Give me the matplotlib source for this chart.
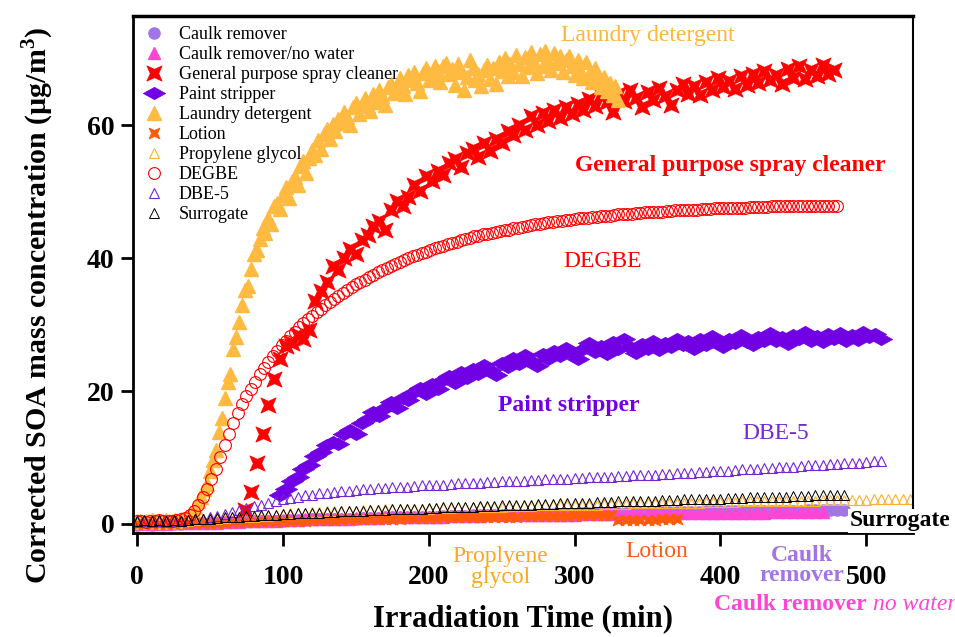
import numpy as np
import matplotlib
matplotlib.use("Agg")
import matplotlib.pyplot as plt

plt.rcParams['font.family'] = 'Liberation Serif'
plt.rcParams['mathtext.fontset'] = 'custom'
plt.rcParams['mathtext.rm'] = 'Liberation Serif'
plt.rcParams['mathtext.bf'] = 'Liberation Serif:bold'

# SOA mass concentration (ug/m3) vs irradiation time (min)
# each series: first sample time, sampling interval, values

caulk_t0, caulk_dt = 0, 5
caulk = [-0.1, 0.0, -0.1, 0.0, 0.0, 0.0, 0.0, 0.1, 0.1, 0.2, 0.2, 0.2, 0.3, 0.3, 0.3, 0.4, 0.4, 0.4, 0.5, 0.5,
         0.5, 0.6, 0.6, 0.6, 0.7, 0.7, 0.7, 0.8, 0.8, 0.8, 0.8, 0.9, 0.9, 0.9, 1.0, 1.0, 1.0, 1.0, 1.1, 1.1,
         1.1, 1.1, 1.2, 1.2, 1.2, 1.2, 1.3, 1.3, 1.3, 1.3, 1.3, 1.4, 1.4, 1.4, 1.4, 1.4, 1.5, 1.5, 1.5, 1.5,
         1.5, 1.6, 1.6, 1.6, 1.6, 1.6, 1.7, 1.7, 1.7, 1.7, 1.7, 1.7, 1.8, 1.8, 1.8, 1.8, 1.8, 1.8, 1.9, 1.9,
         1.9, 1.9, 1.9, 1.9, 1.9, 2.0, 2.0, 2.0, 2.0, 2.0, 2.0, 2.0, 2.1, 2.1, 2.1, 2.1, 2.1, 2.1]

nowater_t0, nowater_dt = 0, 5
nowater = [0.0, 0.0, 0.0, 0.0, 0.0, 0.1, 0.1, 0.1, 0.1, 0.2, 0.2, 0.2, 0.3, 0.3, 0.3, 0.4, 0.4, 0.4, 0.5, 0.5,
           0.6, 0.6, 0.6, 0.7, 0.7, 0.7, 0.8, 0.8, 0.8, 0.8, 0.9, 0.9, 0.9, 0.9, 1.0, 1.0, 1.0, 1.0, 1.1, 1.1,
           1.1, 1.1, 1.1, 1.2, 1.2, 1.2, 1.2, 1.2, 1.3, 1.3, 1.3, 1.3, 1.3, 1.3, 1.4, 1.4, 1.4, 1.4, 1.4, 1.4,
           1.4, 1.5, 1.5, 1.5, 1.5, 1.5, 1.5, 1.5, 1.6, 1.6, 1.6, 1.6, 1.6, 1.6, 1.6, 1.6, 1.6, 1.7, 1.7, 1.7,
           1.7, 1.7, 1.7, 1.7, 1.7, 1.7, 1.7, 1.8, 1.8, 1.8, 1.8, 1.8, 1.8, 1.8, 1.8]

spray_t0, spray_dt = 74, 4
spray = [2.1, 4.8, 9.2, 13.6, 17.9, 21.8, 24.9, 26.8, 27.3, 28.4, 27.9, 29.2, 33.6, 35.1, 36.4, 38.9, 38.2,
         40.1, 41.4, 40.6, 42.8, 43.5, 44.9, 45.6, 44.3, 47.2, 48.6, 47.9, 49.3, 51.0, 50.2, 52.4, 51.6,
         53.1, 52.5, 54.3, 55.0, 53.8, 55.9, 56.4, 55.2, 57.3, 56.1, 58.0, 57.4, 59.2, 58.5, 60.1, 59.3,
         61.4, 60.0, 61.9, 60.6, 62.3, 61.1, 62.8, 61.7, 63.2, 62.4, 64.0, 62.9, 64.6, 63.5, 62.0, 64.8,
         63.7, 65.3, 64.1, 62.8, 65.0, 63.9, 65.6, 64.4, 63.1, 65.4, 66.2, 64.8, 65.9, 64.6, 66.5, 65.3,
         67.1, 65.8, 66.7, 65.5, 67.4, 66.1, 67.8, 66.4, 68.2, 66.9, 67.6, 66.3, 68.5, 67.2, 68.9, 67.0,
         68.3, 67.5, 69.1, 67.8, 68.4]

paint_t0, paint_dt = 98, 4
paint = [4.3, 5.2, 6.4, 7.1, 8.3, 8.9, 10.2, 10.8, 11.9, 12.4, 12.0, 13.5, 14.1, 13.6, 15.2, 15.8, 16.9,
         16.2, 17.5, 18.3, 17.4, 19.0, 18.6, 19.8, 20.4, 19.6, 21.0, 20.3, 21.6, 22.2, 21.2, 22.8, 21.9,
         23.3, 22.5, 24.0, 23.1, 22.4, 24.2, 23.6, 25.0, 24.1, 25.4, 24.6, 23.8, 25.6, 24.9, 26.1, 25.3,
         26.5, 25.7, 24.9, 26.4, 27.2, 25.9, 26.8, 25.6, 27.4, 26.3, 27.9, 26.7, 25.8, 27.1, 26.4, 27.6,
         26.2, 27.3, 26.6, 27.8, 26.9, 27.5, 26.4, 27.9, 27.0, 28.3, 27.2, 26.7, 27.9, 27.3, 28.5, 27.4,
         26.9, 28.1, 27.6, 28.7, 27.5, 28.2, 27.1, 28.4, 27.8, 28.9, 27.6, 28.3, 27.4, 28.6, 27.9, 28.8,
         27.5, 28.4, 27.7, 28.9, 28.1, 28.6, 27.9]

laundry_t0, laundry_dt = 0, 2
laundry = [0.4, 0.5, 0.3, 0.5, 0.4, 0.6, 0.4, 0.5, 0.3, 0.5, 0.6, 0.4, 0.5, 0.6, 0.5, 0.7, 0.8, 1.0, 1.3,
           1.9, 2.6, 3.4, 4.1, 5.2, 6.0, 7.9, 9.6, 11.2, 13.8, 16.0, 18.9, 21.4, 22.6, 26.3, 28.1, 30.4,
           33.0, 35.2, 35.9, 38.4, 40.6, 41.3, 42.9, 44.6, 43.8, 46.1, 45.2, 47.8, 48.3, 47.4, 49.6, 50.8,
           49.1, 51.7, 52.3, 51.0, 53.9, 54.6, 52.8, 55.1, 56.3, 55.5, 57.8, 56.4, 58.7, 59.4, 57.9, 60.2,
           59.1, 61.0, 60.4, 62.1, 61.3, 60.0, 62.8, 63.4, 61.7, 62.9, 64.1, 63.0, 62.2, 64.8, 63.6, 65.3,
           64.4, 63.1, 65.8, 66.3, 64.9, 65.7, 67.2, 66.0, 64.8, 67.6, 66.9, 68.1, 66.4, 65.2, 67.9, 68.6,
           66.8, 67.5, 69.0, 68.2, 66.6, 68.9, 69.4, 67.7, 68.5, 66.1, 69.2, 68.0, 65.4, 67.3, 69.8, 68.6,
           66.9, 67.8, 65.9, 68.4, 69.1, 67.0, 68.7, 66.3, 69.6, 68.2, 70.1, 67.5, 69.3, 68.0, 70.6, 69.2,
           67.4, 70.3, 68.8, 71.0, 69.5, 67.9, 70.8, 69.0, 71.2, 69.7, 68.3, 70.9, 69.4, 70.5, 68.1, 69.8,
           70.4, 68.9, 67.6, 69.9, 68.4, 67.2, 69.5, 67.8, 66.5, 68.6, 67.1, 65.8, 67.3, 65.2, 66.4, 64.6,
           65.9, 63.8]

lotion_t0, lotion_dt = 0, 5
lotion = [0.0, 0.0, 0.0, 0.0, 0.0, 0.0, 0.1, 0.1, 0.1, 0.1, 0.2, 0.2, 0.2, 0.3, 0.3, 0.3, 0.3, 0.4, 0.4, 0.4,
          0.5, 0.5, 0.5, 0.5, 0.6, 0.6, 0.6, 0.6, 0.7, 0.7, 0.7, 0.7, 0.8, 0.8, 0.8, 0.8, 0.8, 0.9, 0.9, 0.9,
          0.9, 0.9, 1.0, 1.0, 1.0, 1.0, 1.0, 1.1, 1.1, 1.1, 1.1, 1.1, 1.1, 1.2, 1.2, 1.2, 1.2, 1.2, 1.2, 1.2,
          1.3, 1.3, 1.3, 1.3, 1.3, 1.3, 0.6, 0.6, 0.6, 0.6, 0.6, 0.6, 0.7, 0.7, 0.7]

pg_t0, pg_dt = 0, 5
pg = [0.5, 0.4, 0.5, 0.5, 0.4, 0.5, 0.5, 0.5, 0.6, 0.7, 0.8, 0.8, 0.9, 1.0, 1.0, 1.1, 1.1, 1.2, 1.2, 1.3,
      1.5, 1.6, 1.7, 1.7, 1.8, 1.8, 1.9, 1.9, 1.9, 2.0, 2.0, 2.1, 2.1, 2.1, 2.2, 2.2, 2.2, 2.3, 2.3, 2.3,
      2.3, 2.4, 2.4, 2.4, 2.5, 2.5, 2.5, 2.6, 2.6, 2.6, 2.6, 2.7, 2.7, 2.7, 2.7, 2.8, 2.8, 2.8, 2.8, 2.8,
      2.9, 2.9, 2.9, 2.9, 3.0, 3.0, 3.0, 3.0, 3.1, 3.1, 3.1, 3.1, 3.1, 3.2, 3.2, 3.2, 3.2, 3.2, 3.3, 3.3,
      3.3, 3.3, 3.3, 3.4, 3.4, 3.4, 3.4, 3.4, 3.5, 3.5, 3.5, 3.5, 3.5, 3.5, 3.6, 3.6, 3.6, 3.6, 3.6, 3.6,
      3.6, 3.7, 3.7, 3.7, 3.7, 3.7, 3.7]

degbe_t0, degbe_dt = 0, 3
degbe = [0.4, 0.5, 0.3, 0.5, 0.4, 0.6, 0.4, 0.5, 0.5, 0.6,
         0.7, 0.9, 1.3, 2.0, 2.9, 4.0, 5.2, 6.7, 8.3, 10.1,
         11.9, 13.6, 15.2, 16.7, 18.0, 19.2, 20.3, 21.4, 22.5, 23.5,
         24.4, 25.3, 26.1, 26.9, 27.6, 28.3, 28.9, 29.6, 30.2, 30.8,
         31.3, 31.9, 32.4, 32.9, 33.4, 33.9, 34.3, 34.8, 35.2, 35.6,
         36.1, 36.4, 36.8, 37.2, 37.5, 37.9, 38.2, 38.6, 38.8, 39.2,
         39.5, 39.7, 40.0, 40.3, 40.5, 40.8, 41.0, 41.3, 41.5, 41.7,
         41.9, 42.2, 42.3, 42.5, 42.7, 42.9, 43.1, 43.3, 43.4, 43.6,
         43.7, 43.8, 44.0, 44.1, 44.2, 44.3, 44.5, 44.6, 44.7, 44.8,
         45.0, 45.1, 45.2, 45.3, 45.4, 45.5, 45.6, 45.6, 45.7, 45.8,
         45.9, 46.0, 46.0, 46.1, 46.2, 46.2, 46.3, 46.4, 46.4, 46.5,
         46.6, 46.6, 46.7, 46.7, 46.8, 46.8, 46.9, 46.9, 47.0, 47.0,
         47.0, 47.1, 47.1, 47.2, 47.2, 47.2, 47.3, 47.3, 47.3, 47.4,
         47.4, 47.4, 47.5, 47.5, 47.5, 47.5, 47.6, 47.6, 47.6, 47.6,
         47.7, 47.7, 47.7, 47.7, 47.7, 47.8, 47.8, 47.8, 47.8, 47.8,
         47.8, 47.8, 47.9, 47.9, 47.9, 47.9, 47.9, 47.9, 47.9, 47.9,
         47.9]

dbe5_t0, dbe5_dt = 0, 5
dbe5 = [0.5, 0.4, 0.5, 0.5, 0.4, 0.5, 0.5, 0.6, 0.7, 0.8, 1.0, 1.2, 1.5, 1.8, 2.1, 2.4, 2.7, 2.9, 3.2, 3.4,
        3.7, 3.9, 4.1, 4.3, 4.4, 4.6, 4.7, 4.8, 4.9, 5.0, 5.1, 5.2, 5.3, 5.4, 5.4, 5.5, 5.6, 5.6, 5.7, 5.8,
        5.8, 5.9, 5.9, 6.0, 6.1, 6.1, 6.2, 6.2, 6.3, 6.3, 6.4, 6.4, 6.5, 6.5, 6.6, 6.6, 6.7, 6.7, 6.8, 6.8,
        6.9, 6.9, 7.0, 7.0, 7.1, 7.1, 7.2, 7.2, 7.3, 7.3, 7.4, 7.4, 7.5, 7.5, 7.6, 7.7, 7.7, 7.8, 7.8, 7.9,
        8.0, 8.0, 8.1, 8.2, 8.2, 8.3, 8.4, 8.4, 8.5, 8.6, 8.6, 8.7, 8.8, 8.8, 8.9, 9.0, 9.0, 9.1, 9.2, 9.2,
        9.3, 9.4, 9.5]

surr_t0, surr_dt = 0, 5
surr = [0.5, 0.6, 0.5, 0.6, 0.5, 0.6, 0.5, 0.6, 0.7, 0.7, 0.8, 0.9, 1.0, 1.0, 1.1, 1.2, 1.2, 1.3, 1.3, 1.4,
        1.5, 1.5, 1.6, 1.6, 1.7, 1.7, 1.8, 1.8, 1.9, 1.9, 2.0, 2.0, 2.1, 2.1, 2.1, 2.2, 2.2, 2.3, 2.3, 2.3,
        2.4, 2.4, 2.5, 2.5, 2.5, 2.6, 2.6, 2.7, 2.7, 2.7, 2.8, 2.8, 2.9, 2.9, 2.9, 3.0, 3.0, 3.0, 3.1, 3.1,
        3.2, 3.2, 3.2, 3.3, 3.3, 3.3, 3.4, 3.4, 3.4, 3.5, 3.5, 3.5, 3.6, 3.6, 3.6, 3.7, 3.7, 3.7, 3.8, 3.8,
        3.8, 3.9, 3.9, 3.9, 4.0, 4.0, 4.0, 4.1, 4.1, 4.1, 4.2, 4.2, 4.2, 4.3, 4.3, 4.3, 4.4, 4.4]


def times(t0, dt, vals):
    return t0 + dt * np.arange(len(vals))


# concave four-point star and flattened diamond markers
star = [(-1, -1), (0, -0.55), (1, -1), (0.55, 0), (1, 1), (0, 0.55), (-1, 1), (-0.55, 0), (-1, -1)]
wdiamond = [(-1.8, 0), (0, 1), (1.8, 0), (0, -1), (-1.8, 0)]

fig = plt.figure(figsize=(9.55, 6.37), dpi=100)
ax = fig.add_axes([0.139, 0.163, 0.817, 0.812])

ax.plot(times(caulk_t0, caulk_dt, caulk), caulk, ls='none', marker='o', ms=8, mfc='#A374E6', mec='#A374E6',
        label='Caulk remover')
ax.plot(times(nowater_t0, nowater_dt, nowater), nowater, ls='none', marker='^', ms=8.5, mfc='#FF45D6',
        mec='#FF45D6', label='Caulk remover/no water')
ax.plot(times(spray_t0, spray_dt, spray), spray, ls='none', marker=star, ms=11, mfc='#FF0000', mec='#FF0000',
        mew=0.5, label='General purpose spray cleaner')
ax.plot(times(paint_t0, paint_dt, paint), paint, ls='none', marker=wdiamond, ms=16, mfc='#7100E4',
        mec='#7100E4', mew=0.5, label='Paint stripper')
ax.plot(times(laundry_t0, laundry_dt, laundry), laundry, ls='none', marker='^', ms=10, mfc='#FFBA42',
        mec='#FFBA42', label='Laundry detergent')
ax.plot(times(lotion_t0, lotion_dt, lotion), lotion, ls='none', marker=star, ms=8, mfc='#FF5A0A',
        mec='#FF5A0A', mew=0.5, label='Lotion')
ax.plot(times(pg_t0, pg_dt, pg), pg, ls='none', marker='^', ms=7.5, mfc='none', mec='#FFB02E', mew=0.8,
        label='Propylene glycol')
ax.plot(times(degbe_t0, degbe_dt, degbe), degbe, ls='none', marker='o', ms=8.5, mfc='none', mec='#FF0000',
        mew=0.8, label='DEGBE')
ax.plot(times(dbe5_t0, dbe5_dt, dbe5), dbe5, ls='none', marker='^', ms=7, mfc='none', mec='#7426D6',
        mew=0.8, label='DBE-5')
ax.plot(times(surr_t0, surr_dt, surr), surr, ls='none', marker='^', ms=7, mfc='none', mec='black',
        mew=0.7, label='Surrogate')

ax.set_xlim(-3, 532)
ax.set_ylim(-1.4, 76.5)
ax.set_xticks([0, 100, 200, 300, 400, 500])
ax.set_yticks([0, 20, 40, 60])
ax.tick_params(direction='out', length=9, width=2, labelsize=20)
ax.tick_params(axis='x', pad=14)
ax.tick_params(axis='y', pad=4)
for lab in ax.get_xticklabels() + ax.get_yticklabels():
    lab.set_fontweight('bold')
for side, lw in [('top', 2.5), ('left', 2), ('bottom', 2), ('right', 1.5)]:
    ax.spines[side].set_linewidth(lw)

ax.set_xlabel('Irradiation Time (min)', fontsize=22, fontweight='bold', labelpad=10)
ax.set_ylabel(r'Corrected SOA mass concentration (µg/m$^{\mathbf{3}}$)', fontsize=21.5,
              fontweight='bold')
ax.yaxis.set_label_coords(-0.098, 0.44)

ax.legend(loc='upper left', bbox_to_anchor=(0.0, 1.0), frameon=False, fontsize=13,
          labelspacing=0.17, handlelength=1.3, handletextpad=0.7, borderaxespad=0.15, numpoints=1)

# series labels
ax.text(350, 73.6, 'Laundry detergent', color='#FFB43C', fontsize=17, ha='center', va='center')
ax.text(407, 53.9, 'General purpose spray cleaner', color='#FF0000', fontsize=17, fontweight='bold',
        ha='center', va='center')
ax.text(319, 39.5, 'DEGBE', color='#FF0000', fontsize=17, ha='center', va='center')
ax.text(296, 17.9, 'Paint stripper', color='#7100E4', fontsize=17, fontweight='bold', ha='center',
        va='center')
ax.text(438, 13.6, 'DBE-5', color='#7426D6', fontsize=17, ha='center', va='center')
ax.text(523, 0.45, 'Surrogate', color='black', fontsize=17, fontweight='bold', ha='center', va='center',
        bbox=dict(facecolor='white', edgecolor='none', pad=1), clip_on=False, zorder=5)
ax.text(249, -6.5, 'Proplyene\nglycol', color='#FFA620', fontsize=17, ha='center', va='center',
        linespacing=0.95, clip_on=False)
ax.text(356, -4.1, 'Lotion', color='#FF5A14', fontsize=17, ha='center', va='center', clip_on=False)
ax.text(456, -6.3, 'Caulk\nremover', color='#A374E6', fontsize=17, fontweight='bold', ha='center',
        va='center', linespacing=0.95, clip_on=False)
ax.text(500.5, -12.2, 'Caulk remover', color='#FF45D6', fontsize=17, fontweight='bold', ha='right',
        va='center', clip_on=False)
ax.text(504.5, -12.2, 'no water', color='#FF45D6', fontsize=17, fontstyle='italic', ha='left',
        va='center', clip_on=False)

fig.savefig('out.png', dpi=100)
